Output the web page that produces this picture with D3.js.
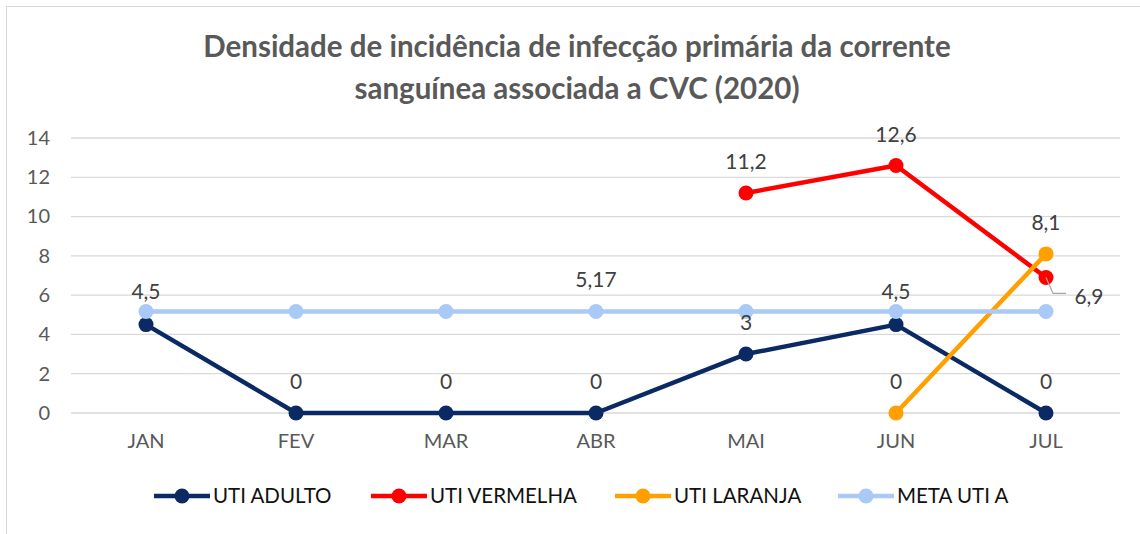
<!DOCTYPE html>
<html><head><meta charset="utf-8">
<script src="https://cdn.jsdelivr.net/npm/d3@7/dist/d3.min.js"></script>
<style>body{margin:0;background:#fff;}svg{display:block;font-family:Lato,"Open Sans",sans-serif;}</style>
</head><body><svg id="c" width="1140" height="534"></svg>
<script>
const categories = ["JAN","FEV","MAR","ABR","MAI","JUN","JUL"];
const utiAdulto = [4.5,0,0,0,3,4.5,0];
const utiVermelha = [null,null,null,null,11.2,12.6,6.9];
const utiLaranja = [null,null,null,null,null,0,8.1];
const metaUtiA = [5.17,5.17,5.17,5.17,5.17,5.17,5.17];
const yTicks = [0,2,4,6,8,10,12,14];
const titleLines = ["Densidade de incidência de infecção primária da corrente","sanguínea associada a CVC (2020)"];

const series = [
  {name:"UTI ADULTO", values:utiAdulto, color:"#0b2a63", labels:[0,1,2,3,4,5,6]},
  {name:"UTI VERMELHA", values:utiVermelha, color:"#ff0000", labels:[4,5,6]},
  {name:"UTI LARANJA", values:utiLaranja, color:"#ff9f00", labels:[5,6]},
  {name:"META UTI A", values:metaUtiA, color:"#a9c9f6", labels:[3]}
];
const fmt = v => String(v).replace(".",",");

const svg = d3.select("#c");
svg.append("rect").attr("x",6.5).attr("y",6.5).attr("width",1160).attr("height",560)
  .attr("fill","none").attr("stroke","#d9d9d9").attr("stroke-width",1);

svg.selectAll("text.title").data(titleLines).join("text").attr("class","title")
  .attr("x",577).attr("y",(d,i)=>57+i*42).attr("text-anchor","middle")
  .attr("font-size",29.5).attr("font-weight","bold").attr("fill","#595959").text(d=>d);

const x = d3.scaleBand().domain(categories).range([71,1121]);
const y = d3.scaleLinear().domain([0,14]).range([413,138]);
const cx = c => x(c)+x.bandwidth()/2;

svg.append("g").selectAll("line").data(yTicks).join("line")
  .attr("x1",71).attr("x2",1120).attr("y1",d=>y(d)).attr("y2",d=>y(d))
  .attr("stroke","#d9d9d9").attr("stroke-width",1.3);

const ya = svg.append("g").attr("transform","translate(60,0)")
  .call(d3.axisLeft(y).tickValues(yTicks).tickSize(0).tickPadding(10));
ya.select(".domain").remove();
ya.selectAll("text").attr("font-size",20).attr("fill","#595959").attr("font-family","Lato,sans-serif");

const xa = svg.append("g").attr("transform","translate(0,432)")
  .call(d3.axisBottom(x).tickSize(0).tickPadding(2));
xa.select(".domain").remove();
xa.selectAll("text").attr("font-size",20).attr("fill","#595959").attr("font-family","Lato,sans-serif");

const line = d3.line().defined(d=>d.v!=null).x(d=>cx(d.c)).y(d=>y(d.v));
series.forEach(s=>{
  const pts = categories.map((c,i)=>({c, v:s.values[i]}));
  const g = svg.append("g");
  g.append("path").datum(pts).attr("d",line).attr("fill","none")
    .attr("stroke",s.color).attr("stroke-width",4.5).attr("stroke-linejoin","round");
  g.selectAll("circle").data(pts.filter(d=>d.v!=null)).join("circle")
    .attr("cx",d=>cx(d.c)).attr("cy",d=>y(d.v)).attr("r",7.5).attr("fill",s.color);
});

const lbl = svg.append("g").attr("font-size",21).attr("fill","#404040").attr("text-anchor","middle");
series.forEach(s=>{
  s.labels.forEach(i=>{
    const v = s.values[i];
    let lx = cx(categories[i]), ly = y(v)-24;
    if (s.name==="UTI ADULTO" && (i===0 || i===5)) ly = y(metaUtiA[i])-12;
    if (s.name==="UTI VERMELHA" && i===6) {
      lx = cx(categories[i])+43; ly = y(v)+27;
      svg.append("polyline").attr("points",[[cx(categories[i]),y(v)],[cx(categories[i])+7,y(v)+16],[cx(categories[i])+20,y(v)+16]].join(" "))
        .attr("fill","none").attr("stroke","#a6a6a6").attr("stroke-width",1.2);
    }
    lbl.append("text").attr("x",lx).attr("y",ly).text(fmt(v));
  });
});

const legX = [154,371,615,838];
const leg = svg.append("g");
series.forEach((s,i)=>{
  const g = leg.append("g").attr("transform",`translate(${legX[i]},496)`);
  g.append("line").attr("x1",0).attr("x2",56).attr("stroke",s.color).attr("stroke-width",4.5);
  g.append("circle").attr("cx",28).attr("r",7.5).attr("fill",s.color);
  g.append("text").attr("x",59).attr("y",7).attr("font-size",20.5).attr("fill","#111").text(s.name);
});
</script></body></html>
